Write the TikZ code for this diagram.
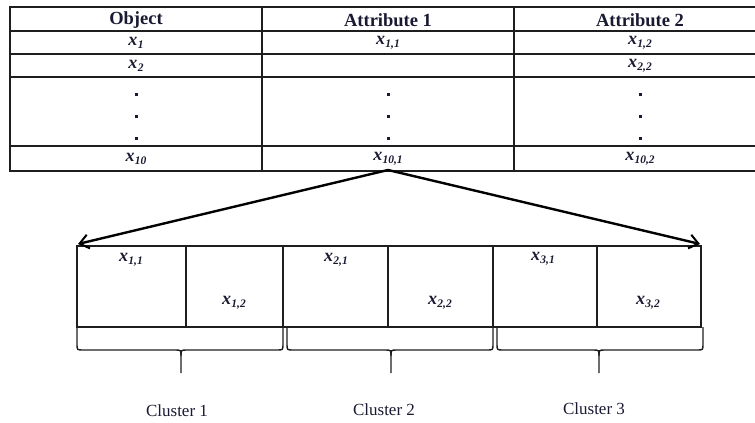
\documentclass[tikz,border=0pt]{standalone}
\usepackage{fontspec}
\setmainfont{Liberation Serif}
\usetikzlibrary{arrows.meta}
\definecolor{ink}{RGB}{25,25,50}
\definecolor{rulec}{RGB}{30,30,30}
\newcommand{\xv}[1]{\textbf{\textit{x}}\kern0.3pt\raisebox{-0.4ex}{\fontsize{11.5}{11.5}\selectfont\bfseries\itshape #1}}
\begin{document}
\begin{tikzpicture}[x=1pt,y=-1pt,
  grid/.style={draw=rulec,line width=1.2pt},
  head/.style={font=\fontsize{18.5}{18.5}\selectfont\bfseries,text=ink,inner sep=0pt},
  val/.style={font=\fontsize{18}{18}\selectfont,text=ink,inner sep=0pt},
  clab/.style={font=\fontsize{17}{17}\selectfont,text=ink,inner sep=0pt},
  dotm/.style={rectangle,fill=ink,inner sep=0pt,minimum size=3pt},
  bigarrow/.style={draw=black,line width=2.4pt,-{Straight Barb[length=9pt,width=14pt,line width=2pt]}},
  bracec/.style={draw=rulec,line width=1.4pt}
]
\useasboundingbox (0,0) rectangle (755,423);
\begin{scope}
\clip (0,0) rectangle (755,423);
\draw[grid] (10,7) rectangle (766,171);
\foreach \y in {31,54,77,146} \draw[grid] (10,\y) -- (766,\y);
\foreach \x in {262,514} \draw[grid] (\x,7) -- (\x,171);
\end{scope}
% header
\node[head] (hObj) at (136,20) {Object};
\node[head] (hA1) at (388,20) {Attribute 1};
\node[head] (hA2) at (640,20) {Attribute 2};
% rows
\node[val] (r1c1) at (136,43) {\xv{1}};
\node[val] (r1c2) at (388,43) {\xv{1,1}};
\node[val] (r1c3) at (640,43) {\xv{1,2}};
\node[val] (r2c1) at (136,66) {\xv{2}};
\node[val] (r2c3) at (640,66) {\xv{2,2}};
\foreach \x/\n in {136/a,388/b,640/c}{
  \foreach \y/\m in {94/1,116/2,138/3}
    \node[dotm] (dot\n\m) at (\x,\y) {};
}
\node[val] (r10c1) at (136,159) {\xv{10}};
\node[val] (r10c2) at (388,159) {\xv{10,1}};
\node[val] (r10c3) at (640,159) {\xv{10,2}};
% lower box
\draw[grid] (77,246) rectangle (701,327);
\foreach \x in {186,283,388,493,597} \draw[grid] (\x,246) -- (\x,327);
\coordinate (src) at (388,170);
\coordinate (tl) at (78,244);
\coordinate (tr) at (700,244);
\draw[bigarrow] (src) -- (tl);
\draw[bigarrow] (src) -- (tr);
\node[val] (c11) at (131,260) {\xv{1,1}};
\node[val] (c12) at (234,303) {\xv{1,2}};
\node[val] (c21) at (336,260) {\xv{2,1}};
\node[val] (c22) at (440,303) {\xv{2,2}};
\node[val] (c31) at (543,259) {\xv{3,1}};
\node[val] (c32) at (648,303) {\xv{3,2}};
% braces
\foreach \a/\b/\m in {77/283/181, 287/493/391, 497/703/599}{
  \draw[bracec] (\a,327) -- (\a,344) .. controls (\a,350) .. (\a+6,350) -- (\m-6,350) .. controls (\m,350) .. (\m,356) -- (\m,373);
  \draw[bracec] (\b,327) -- (\b,344) .. controls (\b,350) .. (\b-6,350) -- (\m+6,350) .. controls (\m,350) .. (\m,356);
}
\node[clab] (cl1) at (177,411) {Cluster 1};
\node[clab] (cl2) at (384,410) {Cluster 2};
\node[clab] (cl3) at (594,409) {Cluster 3};
\end{tikzpicture}
\end{document}
